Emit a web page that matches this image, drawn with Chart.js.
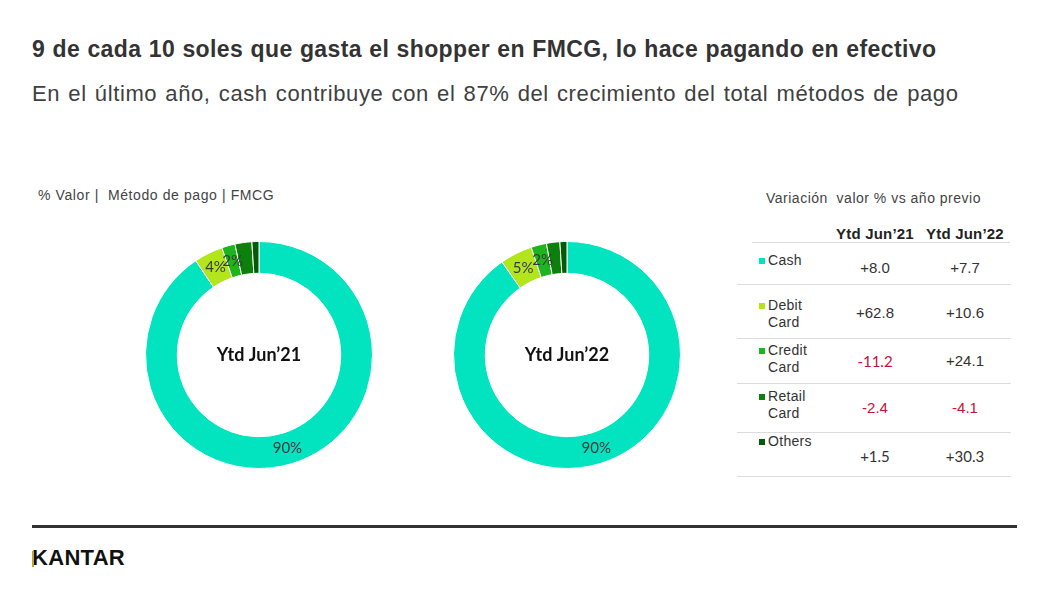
<!DOCTYPE html>
<html>
<head>
<meta charset="utf-8">
<script src="https://cdn.jsdelivr.net/npm/chart.js@4.4.0/dist/chart.umd.min.js"></script>
<style>
  body { margin: 0; width: 1048px; height: 590px; background: #fff; position: relative; overflow: hidden; font-family: "Liberation Sans", Arial, sans-serif; color: #333; }
  .abs { position: absolute; white-space: nowrap; }
  #title { left: 32px; top: 36px; font-size: 23px; font-weight: bold; color: #333; letter-spacing: 0.4px; word-spacing: 0.5px; }
  #subtitle { left: 32px; top: 81px; font-size: 22px; color: #404040; letter-spacing: 0.6px; word-spacing: 1.5px; }
  #note { left: 38px; top: 187px; font-size: 14px; color: #444; letter-spacing: 0.6px; }
  .donut { position: absolute; width: 228px; height: 228px; }
  #d1 { left: 145px; top: 241px; }
  #d2 { left: 453px; top: 241px; }
  #tblTitle { left: 766px; top: 190px; font-size: 14px; color: #444; letter-spacing: 0.5px; }
  .hdr { font-size: 15px; font-weight: bold; color: #222; top: 225px; letter-spacing: 0.2px; }
  .hline { position: absolute; height: 1px; background: #dcdcdc; }
  .lbl { font-size: 14px; color: #333; line-height: 17px; letter-spacing: 0.3px; }
  .sq { position: absolute; width: 6px; height: 6px; }
  .val { font-size: 15px; color: #333; text-align: center; width: 70px; }
  #footline { left: 32px; top: 525px; width: 985px; height: 3px; background: #333; }
  #logo { left: 32px; top: 545px; font-size: 22px; font-weight: bold; color: #111; letter-spacing: 0.3px; }
  #kbar { left: 32px; top: 551px; width: 2px; height: 16px; background: #c9a227; }
</style>
</head>
<body>
<div id="title" class="abs">9 de cada 10 soles que gasta el shopper en FMCG, lo hace pagando en efectivo</div>
<div id="subtitle" class="abs">En el último año, cash contribuye con el 87% del crecimiento del total métodos de pago</div>
<div id="note" class="abs">% Valor |&nbsp; Método de pago | FMCG</div>

<div class="donut" id="d1"><canvas id="c1"></canvas></div>
<div class="donut" id="d2"><canvas id="c2"></canvas></div>

<div id="tblTitle" class="abs">Variación&nbsp; valor % vs año previo</div>
<div id="table"></div>

<div id="footline" class="abs"></div>
<div id="logo" class="abs">KANTAR</div>
<div id="kbar" class="abs"></div>

<script>
// categorias y colores
const metodos = ['Cash', 'Debit Card', 'Credit Card', 'Retail Card', 'Others'];
const colores = ['#02E4BF', '#B2E51C', '#1EB41E', '#0C7F0C', '#065A06'];
const periodos = ['Ytd Jun\u201921', 'Ytd Jun\u201922'];

// % valor por periodo
const share21 = [90.6, 4.1, 1.9, 2.4, 1.0];
const share22 = [90.3, 4.6, 2.2, 1.9, 1.0];
// etiquetas mostradas en la dona
const etiq21 = ['90%', '4%', '2%', '', ''];
const etiq22 = ['90%', '5%', '2%', '', ''];

// variacion % vs año previo
const var21 = ['+8.0', '+62.8', '-11.2', '-2.4', '+1.5'];
const var22 = ['+7.7', '+10.6', '+24.1', '-4.1', '+30.3'];

// plugin: etiquetas sobre los arcos y texto central
const donutLabels = {
  id: 'donutLabels',
  afterDatasetsDraw(chart, args, opts) {
    const ctx = chart.ctx;
    const meta = chart.getDatasetMeta(0);
    ctx.save();
    ctx.textAlign = 'center';
    ctx.textBaseline = 'middle';
    ctx.fillStyle = '#3a3a3a';
    ctx.font = '15px Lato, sans-serif';
    meta.data.forEach((arc, i) => {
      const t = opts.labels[i];
      if (!t) return;
      const p = arc.tooltipPosition();
      ctx.fillText(t, p.x, p.y);
    });
    const a = meta.data[0];
    ctx.font = 'bold 18px Lato, sans-serif';
    ctx.fillStyle = '#111';
    ctx.fillText(opts.center, a.x, a.y);
    ctx.restore();
  }
};

function makeDonut(id, values, labels, center) {
  new Chart(document.getElementById(id), {
    type: 'doughnut',
    data: {
      labels: metodos,
      datasets: [{
        data: values,
        backgroundColor: colores,
        borderColor: '#ffffff',
        borderWidth: 1
      }]
    },
    options: {
      responsive: true,
      maintainAspectRatio: false,
      animation: false,
      cutout: '72%',
      layout: { padding: 0 },
      plugins: {
        legend: { display: false },
        tooltip: { enabled: false },
        donutLabels: { labels: labels, center: center }
      }
    },
    plugins: [donutLabels]
  });
}

makeDonut('c1', share21, etiq21, periodos[0]);
makeDonut('c2', share22, etiq22, periodos[1]);

// tabla de variaciones
const tbl = document.getElementById('table');
function add(html) { tbl.insertAdjacentHTML('beforeend', html); }

add('<div class="abs hdr" style="left:836px">' + periodos[0] + '</div>');
add('<div class="abs hdr" style="left:926px">' + periodos[1] + '</div>');
add('<div class="hline" style="left:752px;top:242px;width:258px"></div>');

const rowBottom = [284, 338, 383, 432, 476];
const valY = [259, 304, 352, 399, 447];
const lblY = [252, 297, 342, 388, 433];
const calibriStyle = { '-11.2': true, '+1.5': true, '+30.3': true };

metodos.forEach((m, i) => {
  const parts = m.split(' ');
  add('<div class="sq" style="left:759px;top:' + (lblY[i] + 6) + 'px;background:' + colores[i] + '"></div>');
  add('<div class="abs lbl" style="left:768px;top:' + lblY[i] + 'px">' + parts.join('<br>') + '</div>');
  [var21[i], var22[i]].forEach((v, j) => {
    const neg = v.charAt(0) === '-';
    let st = 'top:' + valY[i] + 'px;left:' + (j === 0 ? 840 : 930) + 'px;';
    if (neg) st += 'color:#C8103A;';
    if (calibriStyle[v]) st += 'font-family:Lato,sans-serif;font-size:15px;';
    add('<div class="abs val" style="' + st + '">' + v + '</div>');
  });
  add('<div class="hline" style="left:737px;top:' + rowBottom[i] + 'px;width:274px"></div>');
});
</script>
</body>
</html>
